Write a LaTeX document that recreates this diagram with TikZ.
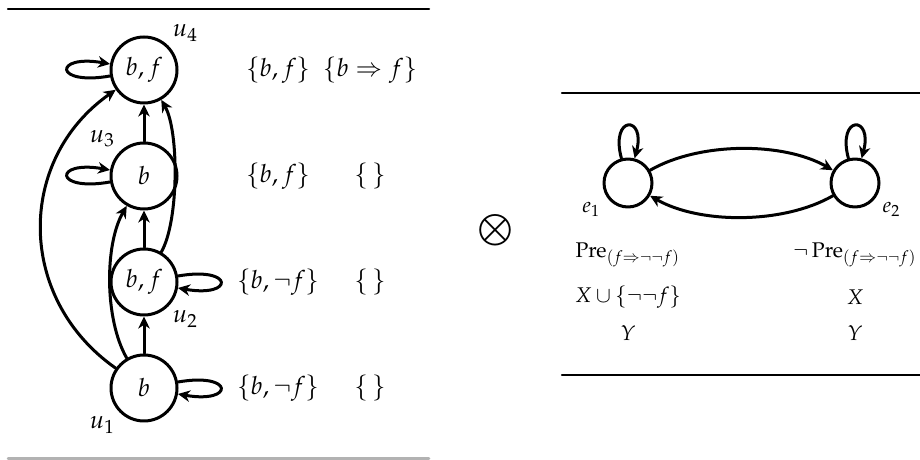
\documentclass[tikz,border=0pt]{standalone}
\usepackage{mathpazo}
\usetikzlibrary{arrows.meta}
\begin{document}
\begin{tikzpicture}[x=0.4pt,y=0.4pt,line join=round,line cap=round,>={Stealth[length=4.8pt,width=4.6pt,inset=1.5pt]},
	state/.style={draw,circle,line width=1.2pt,minimum size=26.4pt,inner sep=0pt},
	world/.style={draw,circle,line width=1.2pt,minimum size=19.2pt,inner sep=0pt},
	arc/.style={->,line width=1.2pt},
	rule/.style={line width=1pt}]
	\useasboundingbox (0,0) rectangle (920,460);
	% model
	\draw[rule] (8,451) -- (429,451);
	\draw[rule,gray!60] (8,1.5) -- (429,1.5);
	\foreach \n/\y/\txt/\ang in {1/72/b/-135,2/178/{b,f}/-45,3/284/b/135,4/390/{b,f}/45}
		\node[state,label={[label distance=-2.5pt]\ang:$u_\n$}] (u\n) at (144,\y) {$\txt$};
	\draw[arc] (u1) -- (u2);
	\draw[arc] (u2) -- (u3);
	\draw[arc] (u3) -- (u4);
	\draw[arc] (u1) to[bend left=55,looseness=1.12] (u4);
	\draw[arc] (u1) to[bend left=30,looseness=0.75] (u3);
	\draw[arc] (u2) to[bend right=30,looseness=0.6] (u4);
	\foreach \v/\o/\i in {u4/190/170,u3/190/170,u2/10/-10,u1/10/-10}
		\draw[arc] (\v) to[out=\o,in=\i,min distance=23pt] (\v);
	\node (s4) at (278,390) {$\{b,f\}$};
	\node (p4) at (370,390) {$\{b\Rightarrow f\}$};
	\node (s3) at (278,284) {$\{b,f\}$};
	\node (p3) at (370,284) {$\{\,\}$};
	\node (s2) at (278,178) {$\{b,\neg f\}$};
	\node (p2) at (370,178) {$\{\,\}$};
	\node (s1) at (278,72) {$\{b,\neg f\}$};
	\node (p1) at (370,72) {$\{\,\}$};
	% product
	\node (times) at (495,230) {$\displaystyle\bigotimes$};
	% event model
	\draw[rule] (562,367) -- (920,367);
	\draw[rule] (562,85) -- (920,85);
	\begin{scope}[font=\fontsize{8.5}{10}\selectfont]
	\node[world,label={[label distance=-1.5pt]210:$e_1$}] (e1) at (628,277) {};
	\node[world,label={[label distance=-1.5pt]-30:$e_2$}] (e2) at (855,277) {};
	\draw[arc] (e1) to[bend left=30,looseness=0.8] (e2);
	\draw[arc] (e2) to[bend left=30,looseness=0.8] (e1);
	\draw[arc] (e1) to[out=105,in=75,min distance=18pt] (e1);
	\draw[arc] (e2) to[out=105,in=75,min distance=18pt] (e2);
	\node (pre1) at (628,205) {$\mathrm{Pre}_{(f\Rightarrow\neg\neg f)}$};
	\node (pre2) at (855,205) {$\neg\,\mathrm{Pre}_{(f\Rightarrow\neg\neg f)}$};
	\node (x1) at (628,163) {$X\cup\{\neg\neg f\}$};
	\node (x2) at (855,163) {$X$};
	\node (y1) at (628,127) {$Y$};
	\node (y2) at (855,127) {$Y$};
	\end{scope}
\end{tikzpicture}
\end{document}
